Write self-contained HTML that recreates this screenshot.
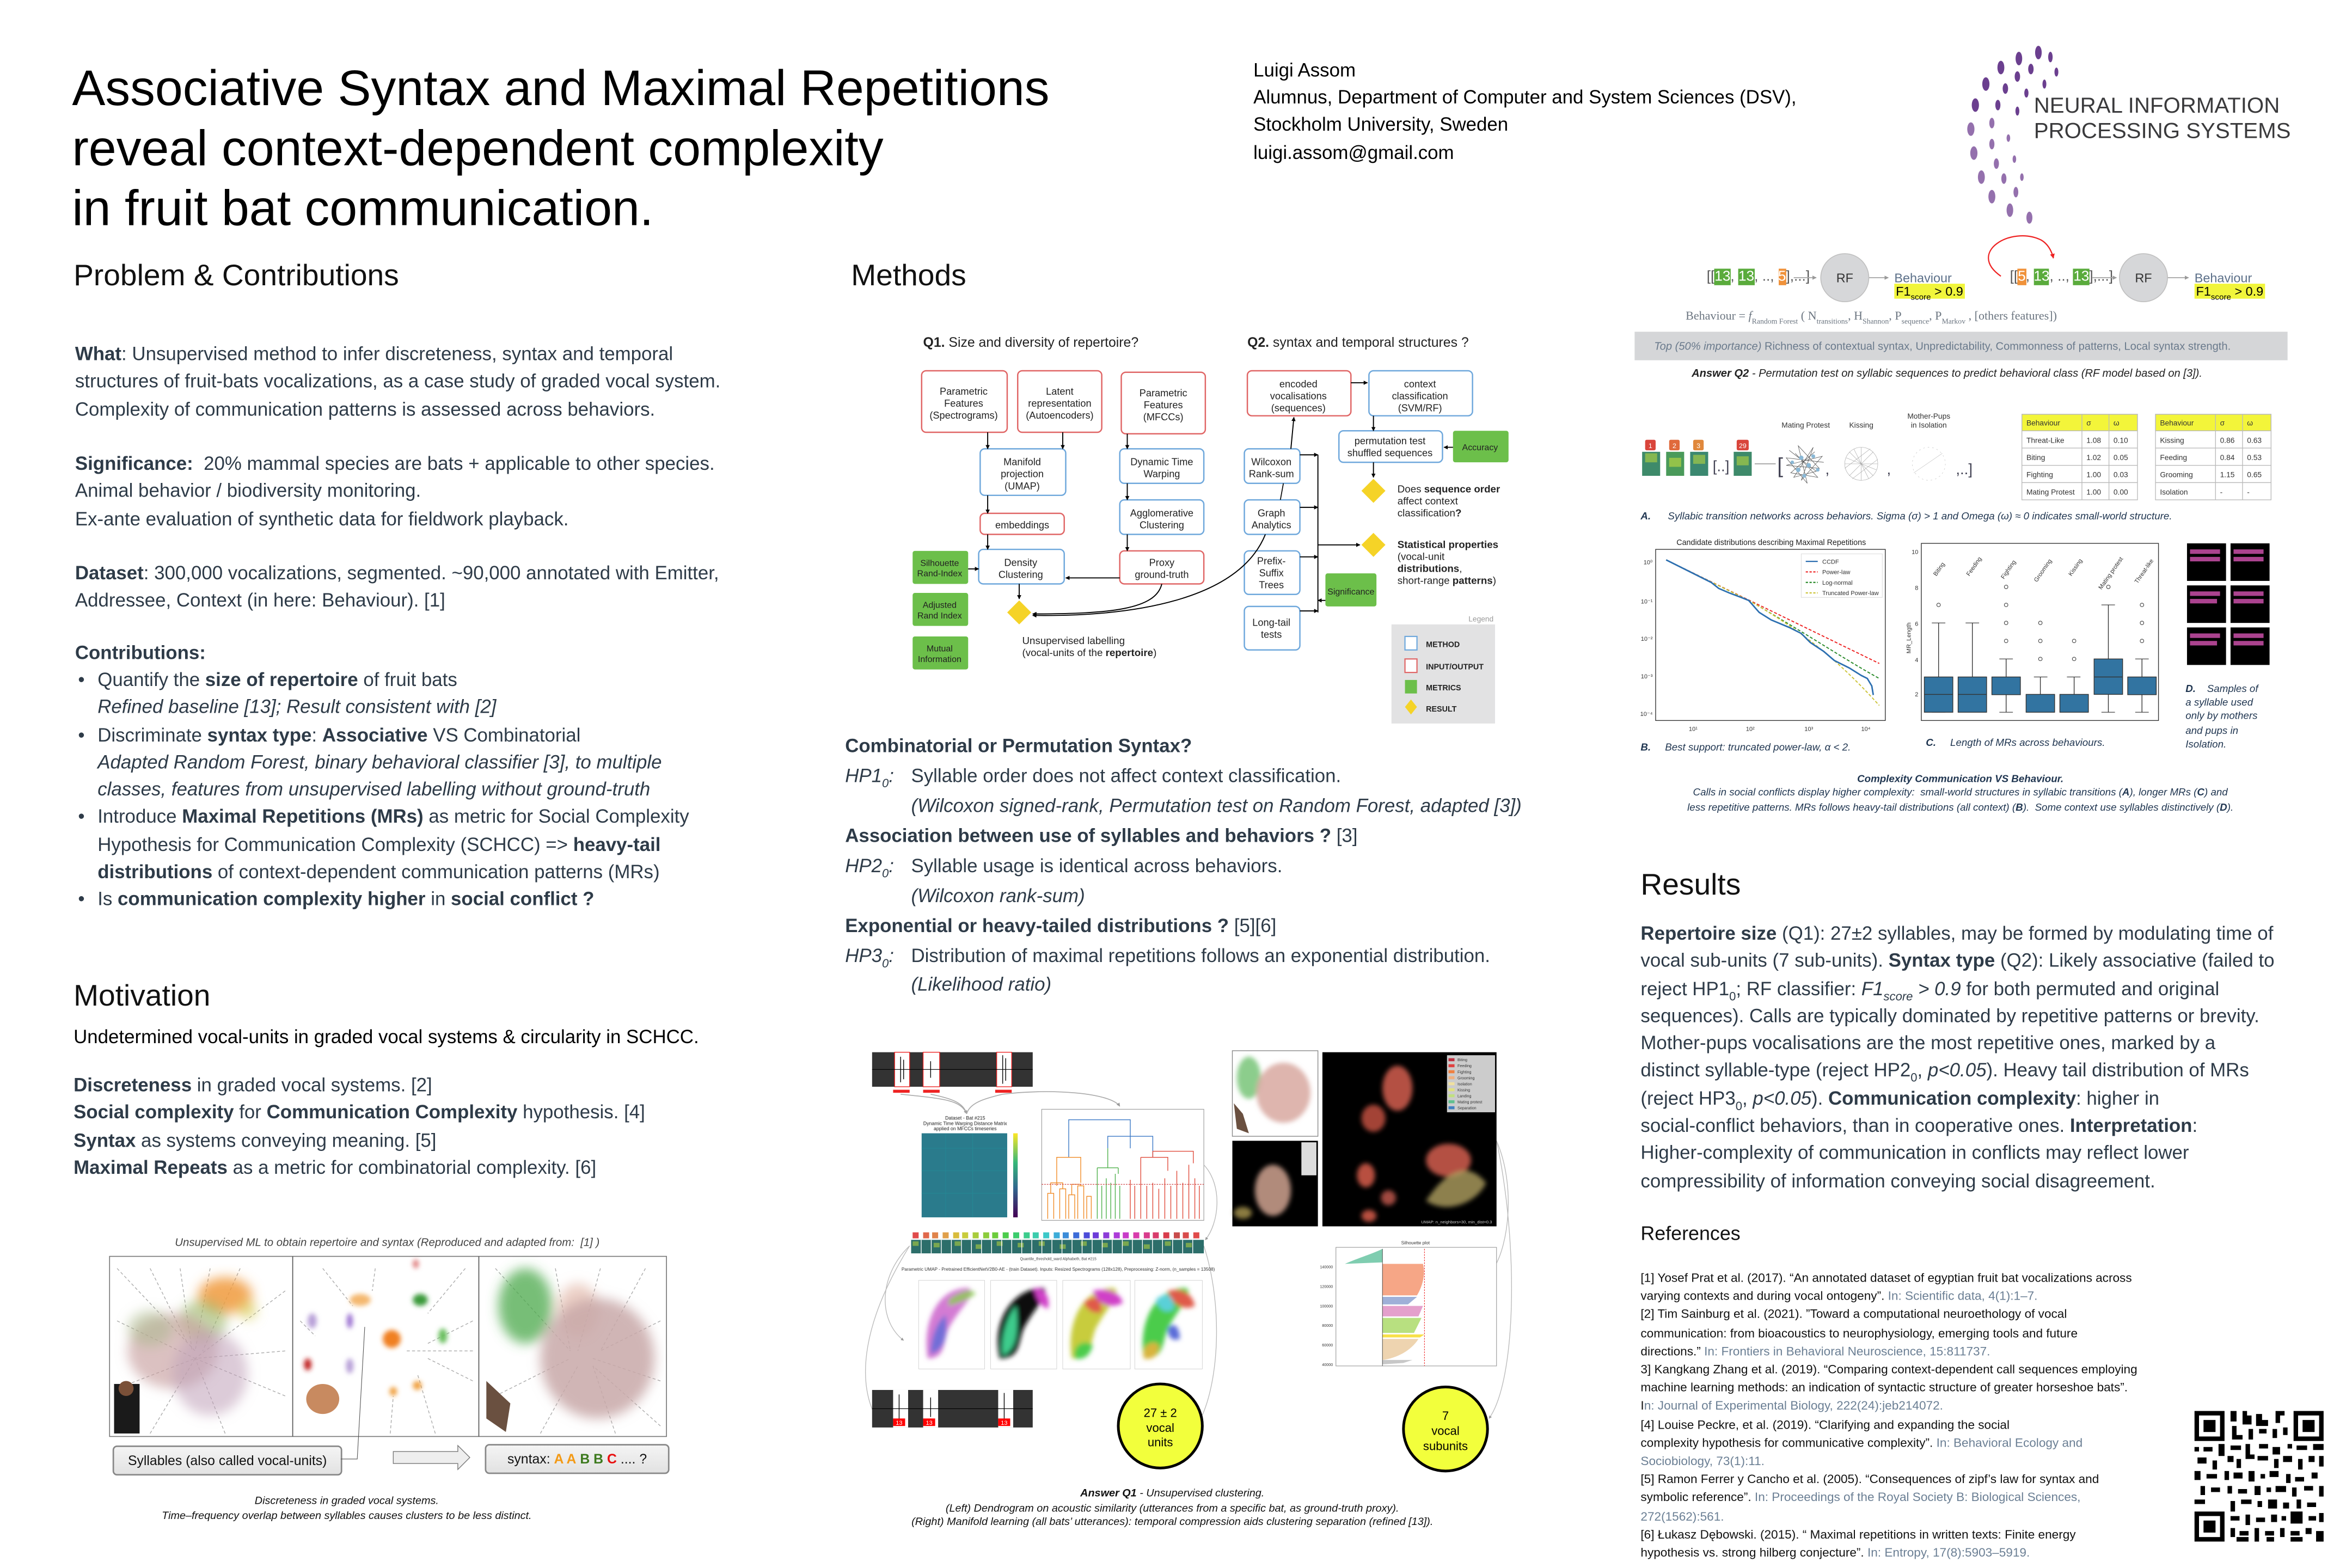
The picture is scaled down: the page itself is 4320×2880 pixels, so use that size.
<!DOCTYPE html>
<html><head><meta charset="utf-8">
<style>
html,body{margin:0;padding:0;background:#fff;}
body{width:4320px;height:2880px;overflow:hidden;position:relative;}
#w{position:absolute;left:0;top:0;width:1556px;height:1037px;transform:scale(2.757);transform-origin:0 0;font-family:"Liberation Sans",Arial,sans-serif;}
.t{position:absolute;white-space:nowrap;}
.body{color:#2e3b48;font-size:12.65px;line-height:18.3px;}
.h2{font-size:20px;color:#111;}
b{font-weight:bold;}
sub{line-height:0;font-size:8px;}
svg text{font-family:"Liberation Sans",Arial,sans-serif;}
</style></head><body><div id="w">

<!-- Title -->
<div class="t" style="left:48px;top:40px;font-size:33.2px;line-height:40px;color:#000;">Associative Syntax and Maximal Repetitions<br>reveal context-dependent complexity<br>in fruit bat communication.</div>

<!-- Author -->
<div class="t" style="left:835px;top:38px;font-size:12.65px;line-height:18.2px;color:#000;">Luigi Assom<br>Alumnus, Department of Computer and System Sciences (DSV),<br>Stockholm University, Sweden<br>luigi.assom@gmail.com</div>

<div class="t" style="left:1355px;top:63px;font-size:14.6px;line-height:16.5px;color:#3a3a3c;">NEURAL INFORMATION<br>PROCESSING SYSTEMS</div>

<!-- Section headings -->
<div class="t h2" style="left:49px;top:173px;">Problem &amp; Contributions</div>
<div class="t h2" style="left:567px;top:173px;">Methods</div>
<div class="t h2" style="left:49px;top:653px;">Motivation</div>
<div class="t h2" style="left:1093px;top:579px;">Results</div>
<div class="t" style="left:1093px;top:814px;font-size:13px;color:#111;">References</div>

<!-- Left text -->
<div class="t body" style="left:50px;top:227px;"><b>What</b>: Unsupervised method to infer discreteness, syntax and temporal<br>structures of fruit-bats vocalizations, as a case study of graded vocal system.<br>Complexity of communication patterns is assessed across behaviors.</div>
<div class="t body" style="left:50px;top:300px;"><b>Significance:</b>&nbsp; 20% mammal species are bats + applicable to other species.<br>Animal behavior / biodiversity monitoring.<br>Ex-ante evaluation of synthetic data for fieldwork playback.</div>
<div class="t body" style="left:50px;top:373px;"><b>Dataset</b>: 300,000 vocalizations, segmented. ~90,000 annotated with Emitter,<br>Addressee, Context (in here: Behaviour). [1]</div>
<div class="t body" style="left:50px;top:426px;"><b>Contributions:</b></div>
<div class="t body" style="left:52px;top:444px;">•<br><br>•<br><br><br>•<br><br><br>•</div>
<div class="t body" style="left:65px;top:444px;">Quantify the <b>size of repertoire</b> of fruit bats<br><i>Refined baseline [13]; Result consistent with [2]</i><br>Discriminate <b>syntax type</b>: <b>Associative</b> VS Combinatorial<br><i>Adapted Random Forest, binary behavioral classifier [3], to multiple</i><br><i>classes, features from unsupervised labelling without ground-truth</i><br>Introduce <b>Maximal Repetitions (MRs)</b> as metric for Social Complexity<br>Hypothesis for Communication Complexity (SCHCC) =&gt; <b>heavy-tail</b><br><b>distributions</b> of context-dependent communication patterns (MRs)<br>Is <b>communication complexity higher</b> in <b>social conflict ?</b></div>
<div class="t" style="left:49px;top:684px;font-size:12.65px;color:#000;">Undetermined vocal-units in graded vocal systems &amp; circularity in SCHCC.</div>
<div class="t body" style="left:49px;top:714px;"><b>Discreteness</b> in graded vocal systems. [2]<br><b>Social complexity</b> for <b>Communication Complexity</b> hypothesis. [4]<br><b>Syntax</b> as systems conveying meaning. [5]<br><b>Maximal Repeats</b> as a metric for combinatorial complexity. [6]</div>

<!-- Methods text -->
<div class="t body" style="left:563px;top:488px;"><b>Combinatorial or Permutation Syntax?</b></div>
<div class="t body" style="left:563px;top:508px;"><i>HP1<sub>0</sub>:</i></div>
<div class="t body" style="left:607px;top:508px;">Syllable order does not affect context classification.</div>
<div class="t body" style="left:607px;top:528px;"><i>(Wilcoxon signed-rank, Permutation test on Random Forest, adapted [3])</i></div>
<div class="t body" style="left:563px;top:548px;"><b>Association between use of syllables and behaviors ?</b> [3]</div>
<div class="t body" style="left:563px;top:568px;"><i>HP2<sub>0</sub>:</i></div>
<div class="t body" style="left:607px;top:568px;">Syllable usage is identical across behaviors.</div>
<div class="t body" style="left:607px;top:588px;"><i>(Wilcoxon rank-sum)</i></div>
<div class="t body" style="left:563px;top:608px;"><b>Exponential or heavy-tailed distributions ?</b> [5][6]</div>
<div class="t body" style="left:563px;top:628px;"><i>HP3<sub>0</sub>:</i></div>
<div class="t body" style="left:607px;top:628px;">Distribution of maximal repetitions follows an exponential distribution.</div>
<div class="t body" style="left:607px;top:647px;"><i>(Likelihood ratio)</i></div>

<!-- Results text -->
<div class="t body" style="left:1093px;top:613px;"><b>Repertoire size</b> (Q1): 27±2 syllables, may be formed by modulating time of<br>vocal sub-units (7 sub-units). <b>Syntax type</b> (Q2): Likely associative (failed to<br>reject HP1<sub>0</sub>; RF classifier: <i>F1<sub>score</sub> &gt; 0.9</i> for both permuted and original<br>sequences). Calls are typically dominated by repetitive patterns or brevity.<br>Mother-pups vocalisations are the most repetitive ones, marked by a<br>distinct syllable-type (reject HP2<sub>0</sub>, <i>p&lt;0.05</i>). Heavy tail distribution of MRs<br>(reject HP3<sub>0</sub>, <i>p&lt;0.05</i>). <b>Communication complexity</b>: higher in<br>social-conflict behaviors, than in cooperative ones. <b>Interpretation</b>:<br>Higher-complexity of communication in conflicts may reflect lower<br>compressibility of information conveying social disagreement.</div>

<!-- References -->
<div class="t" style="left:1093px;top:846px;font-size:8.2px;line-height:12.2px;color:#111;">[1] Yosef Prat et al. (2017). “An annotated dataset of egyptian fruit bat vocalizations across<br>varying contexts and during vocal ontogeny”. <span style="color:#6b7f94">In: Scientific data, 4(1):1–7.</span><br>[2] Tim Sainburg et al. (2021). ”Toward a computational neuroethology of vocal<br>communication: from bioacoustics to neurophysiology, emerging tools and future<br>directions.” <span style="color:#6b7f94">In: Frontiers in Behavioral Neuroscience, 15:811737.</span><br>3] Kangkang Zhang et al. (2019). “Comparing context-dependent call sequences employing<br>machine learning methods: an indication of syntactic structure of greater horseshoe bats”.<br>I<span style="color:#6b7f94">n: Journal of Experimental Biology, 222(24):jeb214072.</span><br>[4] Louise Peckre, et al. (2019). “Clarifying and expanding the social<br>complexity hypothesis for communicative complexity”. <span style="color:#6b7f94">In: Behavioral Ecology and</span><br><span style="color:#6b7f94">Sociobiology, 73(1):11.</span><br>[5] Ramon Ferrer y Cancho et al. (2005). “Consequences of zipf’s law for syntax and<br>symbolic reference”. <span style="color:#6b7f94">In: Proceedings of the Royal Society B: Biological Sciences,</span><br><span style="color:#6b7f94">272(1562):561.</span><br>[6] Łukasz Dębowski. (2015). “ Maximal repetitions in written texts: Finite energy<br>hypothesis vs. strong hilberg conjecture”. <span style="color:#6b7f94">In: Entropy, 17(8):5903–5919.</span></div>

<!-- Right-top sequence text -->
<div class="t" style="left:1137px;top:179px;font-size:9.5px;color:#555;">[[<span style="background:#5aab3c;color:#fff">13</span>, <span style="background:#5aab3c;color:#fff">13</span>, .., <span style="background:#f0923a;color:#fff">5</span>],...]</div>
<div class="t" style="left:1339px;top:179px;font-size:9.5px;color:#555;">[[<span style="background:#f0923a;color:#fff">5</span>, <span style="background:#5aab3c;color:#fff">13</span>, .., <span style="background:#5aab3c;color:#fff">13</span>],...]</div>
<div class="t" style="left:1262px;top:180px;font-size:8.5px;color:#5b6f88;">Behaviour</div>
<div class="t" style="left:1262px;top:189px;font-size:8.5px;line-height:10px;background:#f1f53b;color:#000;padding:0 1px;">F1<sub style="font-size:5.5px">score</sub> &gt; 0.9</div>
<div class="t" style="left:1462px;top:180px;font-size:8.5px;color:#5b6f88;">Behaviour</div>
<div class="t" style="left:1462px;top:189px;font-size:8.5px;line-height:10px;background:#f1f53b;color:#000;padding:0 1px;">F1<sub style="font-size:5.5px">score</sub> &gt; 0.9</div>
<div class="t" style="left:1123px;top:206px;font-size:8px;color:#6b7580;font-family:'Liberation Serif',serif;">Behaviour = <i>f</i><sub style="font-size:5px">Random Forest</sub> ( N<sub style="font-size:5px">transitions</sub>, H<sub style="font-size:5px">Shannon</sub>, P<sub style="font-size:5px">sequence</sub>, P<sub style="font-size:5px">Markov</sub> , [others features])</div>
<div class="t" style="left:1089px;top:221px;width:435px;height:19px;background:#d5d6d8;"></div>
<div class="t" style="left:1102px;top:226px;font-size:7.3px;color:#6a7a8c;"><i>Top (50% importance)</i> Richness of contextual syntax, Unpredictability, Commonness of patterns, Local syntax strength.</div>
<div class="t" style="left:1127px;top:244px;font-size:7.3px;color:#222;font-style:italic;"><b>Answer Q2</b> - Permutation test on syllabic sequences to predict behavioral class (RF model based on [3]).</div>

<div class="t" style="left:1093px;top:341px;font-size:6.8px;color:#1f3550;font-style:italic;"><b>A.</b> &nbsp;&nbsp;&nbsp;&nbsp;&nbsp;Syllabic transition networks across behaviors. Sigma (σ) &gt; 1 and Omega (ω) ≈ 0 indicates small-world structure.</div>
<div class="t" style="left:1093px;top:495px;font-size:6.8px;color:#1f3550;font-style:italic;"><b>B.</b> &nbsp;&nbsp;&nbsp;&nbsp;Best support: truncated power-law, α &lt; 2.</div>
<div class="t" style="left:1283px;top:492px;font-size:6.8px;color:#1f3550;font-style:italic;"><b>C.</b> &nbsp;&nbsp;&nbsp;&nbsp;Length of MRs across behaviours.</div>
<div class="t" style="left:1456px;top:455px;font-size:6.8px;line-height:9.2px;color:#1f3550;font-style:italic;"><b>D.</b> &nbsp;&nbsp;&nbsp;Samples of<br>a syllable used<br>only by mothers<br>and pups in<br>Isolation.</div>
<div class="t" style="left:1306px;top:515px;transform:translateX(-50%);text-align:center;font-size:6.8px;line-height:9.4px;color:#1f3550;font-style:italic;"><b>Complexity Communication VS Behaviour.</b><br>Calls in social conflicts display higher complexity:&nbsp; small-world structures in syllabic transitions (<b>A</b>), longer MRs (<b>C</b>) and<br>less repetitive patterns. MRs follows heavy-tail distributions (all context) (<b>B</b>).&nbsp; Some context use syllables distinctively (<b>D</b>).</div>

<!-- Q1 answer caption -->
<div class="t" style="left:781px;top:990px;transform:translateX(-50%);text-align:center;font-size:7.2px;line-height:9.6px;color:#111;font-style:italic;"><b>Answer Q1</b> - Unsupervised clustering.<br>(Left) Dendrogram on acoustic similarity (utterances from a specific bat, as ground-truth proxy).<br>(Right) Manifold learning (all bats’ utterances): temporal compression aids clustering separation (refined [13]).</div>

<!-- Left fig captions -->
<div class="t" style="left:258px;top:823px;transform:translateX(-50%);font-size:7.4px;color:#444;font-style:italic;">Unsupervised ML to obtain repertoire and syntax (Reproduced and adapted from:&nbsp; [1] )</div>
<div class="t" style="left:231px;top:995px;transform:translateX(-50%);text-align:center;font-size:7.2px;line-height:10px;color:#111;font-style:italic;">Discreteness in graded vocal systems.<br>Time–frequency overlap between syllables causes clusters to be less distinct.</div>
<div class="t" style="left:75px;top:963px;width:151px;height:18px;border:0.8px solid #888;border-radius:3px;background:linear-gradient(#f4f4f4,#e2e2e2);font-size:9px;line-height:18px;text-align:center;color:#111;">Syllables (also called vocal-units)</div>
<div class="t" style="left:323px;top:962px;width:121px;height:18px;border:0.8px solid #888;border-radius:3px;background:linear-gradient(#f4f4f4,#e2e2e2);font-size:9px;line-height:18px;text-align:center;color:#111;">syntax: <b style="color:#f39a16">A A</b> <b style="color:#3d7a1e">B B</b> <b style="color:#e81010">C</b> .... ?</div>

<svg style="position:absolute;left:0;top:0" width="1556" height="1037" viewBox="0 0 1556 1037">
<defs>
<filter id="bl" x="-50%" y="-50%" width="200%" height="200%"><feGaussianBlur stdDeviation="4"/></filter>
<filter id="bl2" x="-50%" y="-50%" width="200%" height="200%"><feGaussianBlur stdDeviation="1.5"/></filter>
<marker id="ah" viewBox="0 0 10 10" refX="9" refY="5" markerWidth="4" markerHeight="4" orient="auto"><path d="M0,0L10,5L0,10z" fill="#000"/></marker>
<marker id="ag" viewBox="0 0 10 10" refX="9" refY="5" markerWidth="4" markerHeight="4" orient="auto"><path d="M0,0L10,5L0,10z" fill="#999"/></marker>
<marker id="ar" viewBox="0 0 10 10" refX="9" refY="5" markerWidth="4" markerHeight="4" orient="auto"><path d="M0,0L10,5L0,10z" fill="#e22"/></marker>
<linearGradient id="vir" x1="0" y1="1" x2="0" y2="0"><stop offset="0" stop-color="#440154"/><stop offset=".35" stop-color="#31688e"/><stop offset=".65" stop-color="#35b779"/><stop offset="1" stop-color="#fde725"/></linearGradient>
</defs>

<!-- NeurIPS logo dots -->
<g fill="#6b3f8f">
<ellipse cx="1358" cy="35" rx="2.2" ry="4.5"/><ellipse cx="1345" cy="39" rx="2.2" ry="4.5"/><ellipse cx="1333" cy="45" rx="2.3" ry="4.5"/><ellipse cx="1323" cy="56" rx="2.4" ry="4.5"/><ellipse cx="1316" cy="70" rx="2.4" ry="4.5"/>
<ellipse cx="1353" cy="46" rx="1.8" ry="3.5"/><ellipse cx="1344" cy="51" rx="1.8" ry="3.5"/><ellipse cx="1336" cy="59" rx="1.8" ry="3.5"/><ellipse cx="1331" cy="70" rx="1.7" ry="3.5"/>
<ellipse cx="1366" cy="38" rx="1.5" ry="3.5"/><ellipse cx="1370" cy="48" rx="1.3" ry="3"/><ellipse cx="1362" cy="56" rx="1.3" ry="3"/><ellipse cx="1350" cy="62" rx="1.4" ry="3"/><ellipse cx="1344" cy="74" rx="1.3" ry="3"/>
</g>
<g fill="#9470ad">
<ellipse cx="1313" cy="86" rx="2.4" ry="4.5"/><ellipse cx="1315" cy="102" rx="2.4" ry="4.5"/><ellipse cx="1320" cy="118" rx="2.3" ry="4.5"/><ellipse cx="1327" cy="131" rx="2.3" ry="4.5"/><ellipse cx="1339" cy="140" rx="2.2" ry="4.5"/><ellipse cx="1352" cy="145" rx="2" ry="4"/>
<ellipse cx="1327" cy="82" rx="1.7" ry="3.5"/><ellipse cx="1327" cy="96" rx="1.7" ry="3.5"/><ellipse cx="1330" cy="109" rx="1.7" ry="3.5"/><ellipse cx="1335" cy="119" rx="1.7" ry="3.5"/><ellipse cx="1343" cy="128" rx="1.6" ry="3.5"/>
<ellipse cx="1338" cy="92" rx="1.2" ry="2.5"/><ellipse cx="1342" cy="106" rx="1.2" ry="2.5"/><ellipse cx="1347" cy="118" rx="1.2" ry="2.5"/>
</g>

<!-- ============ METHODS DIAGRAM ============ -->
<g font-size="7" fill="#222" text-anchor="middle">
<text x="615" y="231" text-anchor="start" font-size="9"><tspan font-weight="bold">Q1.</tspan> Size and diversity of repertoire?</text>
<text x="831" y="231" text-anchor="start" font-size="9"><tspan font-weight="bold">Q2.</tspan> syntax and temporal structures ?</text>
</g>
<g fill="#fff" stroke-width="0.9">
<rect x="614" y="247" width="57" height="41" rx="3" stroke="#e06666"/>
<rect x="678" y="247" width="56" height="41" rx="3" stroke="#e06666"/>
<rect x="747" y="248" width="56" height="41" rx="3" stroke="#e06666"/>
<rect x="653" y="299" width="57" height="31" rx="3" stroke="#6fa8dc"/>
<rect x="746" y="299" width="56" height="23" rx="3" stroke="#6fa8dc"/>
<rect x="653" y="342" width="56" height="14" rx="3" stroke="#e06666"/>
<rect x="746" y="333" width="56" height="23" rx="3" stroke="#6fa8dc"/>
<rect x="652" y="366" width="57" height="23" rx="3" stroke="#6fa8dc"/>
<rect x="746" y="367" width="56" height="22" rx="3" stroke="#e06666"/>
<rect x="831" y="247" width="69" height="30" rx="3" stroke="#e06666"/>
<rect x="912" y="247" width="69" height="30" rx="3" stroke="#6fa8dc"/>
<rect x="892" y="287" width="69" height="21" rx="3" stroke="#6fa8dc"/>
<rect x="829" y="299" width="37" height="23" rx="3" stroke="#6fa8dc"/>
<rect x="829" y="333" width="37" height="23" rx="3" stroke="#6fa8dc"/>
<rect x="829" y="367" width="37" height="29" rx="3" stroke="#6fa8dc"/>
<rect x="829" y="404" width="37" height="29" rx="3" stroke="#6fa8dc"/>
</g>
<g fill="#6cbf4a">
<rect x="608" y="367" width="37" height="22" rx="1.5"/>
<rect x="608" y="395" width="37" height="22" rx="1.5"/>
<rect x="608" y="424" width="37" height="22" rx="1.5"/>
<rect x="968" y="287" width="37" height="21" rx="1.5"/>
<rect x="883" y="382" width="34" height="22" rx="1.5"/>
</g>
<g font-size="6.6" fill="#222" text-anchor="middle">
<text x="642" y="263">Parametric</text><text x="642" y="271">Features</text><text x="642" y="279">(Spectrograms)</text>
<text x="706" y="263">Latent</text><text x="706" y="271">representation</text><text x="706" y="279">(Autoencoders)</text>
<text x="775" y="264">Parametric</text><text x="775" y="272">Features</text><text x="775" y="280">(MFCCs)</text>
<text x="681" y="310">Manifold</text><text x="681" y="318">projection</text><text x="681" y="326">(UMAP)</text>
<text x="774" y="310">Dynamic Time</text><text x="774" y="318">Warping</text>
<text x="681" y="352">embeddings</text>
<text x="774" y="344">Agglomerative</text><text x="774" y="352">Clustering</text>
<text x="680" y="377">Density</text><text x="680" y="385">Clustering</text>
<text x="774" y="377">Proxy</text><text x="774" y="385">ground-truth</text>
<text x="865" y="258">encoded</text><text x="865" y="266">vocalisations</text><text x="865" y="274">(sequences)</text>
<text x="946" y="258">context</text><text x="946" y="266">classification</text><text x="946" y="274">(SVM/RF)</text>
<text x="926" y="296">permutation test</text><text x="926" y="304">shuffled sequences</text>
<text x="847" y="310">Wilcoxon</text><text x="847" y="318">Rank-sum</text>
<text x="847" y="344">Graph</text><text x="847" y="352">Analytics</text>
<text x="847" y="376">Prefix-</text><text x="847" y="384">Suffix</text><text x="847" y="392">Trees</text>
<text x="847" y="417">Long-tail</text><text x="847" y="425">tests</text>
<g font-size="5.8"><text x="626" y="377">Silhouette</text><text x="626" y="384">Rand-Index</text>
<text x="626" y="405">Adjusted</text><text x="626" y="412">Rand Index</text>
<text x="626" y="434">Mutual</text><text x="626" y="441">Information</text>
<text x="986" y="300">Accuracy</text>
<text x="900" y="396">Significance</text></g>
</g>
<g stroke="#000" stroke-width="0.7" fill="none" marker-end="url(#ah)">
<line x1="658" y1="288" x2="658" y2="299"/><line x1="708" y1="288" x2="708" y2="299"/><line x1="751" y1="289" x2="751" y2="299"/>
<line x1="658" y1="330" x2="658" y2="342"/><line x1="658" y1="356" x2="658" y2="366"/>
<line x1="751" y1="322" x2="751" y2="333"/><line x1="751" y1="356" x2="751" y2="367"/>
<line x1="746" y1="385" x2="710" y2="385"/><line x1="645" y1="379" x2="652" y2="379"/>
<line x1="679" y1="389" x2="679" y2="399"/>
<path d="M774,389 C770,406 740,409 688,409"/><path d="M843,356 C826,398 760,411 688,410"/>
<line x1="900" y1="255" x2="911" y2="255"/><line x1="915" y1="277" x2="915" y2="287"/>
<line x1="915" y1="308" x2="915" y2="318"/><line x1="968" y1="298" x2="962" y2="298"/>
<line x1="860" y1="299" x2="862" y2="278"/>
<line x1="866" y1="303" x2="878" y2="303"/><line x1="866" y1="338" x2="878" y2="338"/>
<line x1="866" y1="371" x2="878" y2="371"/><line x1="866" y1="407" x2="878" y2="407"/>
<line x1="883" y1="400" x2="878" y2="400"/><line x1="878" y1="363" x2="906" y2="363"/>
</g>
<line x1="878" y1="303" x2="878" y2="408" stroke="#000" stroke-width="0.7"/>
<line x1="855" y1="322" x2="853" y2="333" stroke="#000" stroke-width="0.6"/>
<g fill="#f5d327"><path d="M679,400 L687,408 L679,416 L671,408z"/><path d="M915,319 L923,327 L915,335 L907,327z"/><path d="M915,355 L923,363 L915,371 L907,363z"/></g>
<g font-size="6.8" fill="#222">
<text x="681" y="429">Unsupervised labelling</text><text x="681" y="437">(vocal-units of the <tspan font-weight="bold">repertoire</tspan>)</text>
<text x="931" y="328">Does <tspan font-weight="bold">sequence order</tspan></text><text x="931" y="336">affect context</text><text x="931" y="344">classification<tspan font-weight="bold">?</tspan></text>
<text x="931" y="365" font-weight="bold">Statistical properties</text><text x="931" y="373">(vocal-unit</text><text x="931" y="381"><tspan font-weight="bold">distributions</tspan>,</text><text x="931" y="389">short-range <tspan font-weight="bold">patterns</tspan>)</text>
</g>
<text x="995" y="414" font-size="5" fill="#999" text-anchor="end">Legend</text>
<rect x="927" y="416" width="69" height="66" fill="#e2e2e3"/>
<rect x="936" y="424" width="8" height="9" fill="#fff" stroke="#6fa8dc" stroke-width="0.8"/>
<rect x="936" y="439" width="8" height="9" fill="#fff" stroke="#e06666" stroke-width="0.8"/>
<rect x="936" y="453" width="8" height="9" fill="#6cbf4a"/>
<path d="M940,466 L944,471 L940,476 L936,471z" fill="#f5d327"/>
<g font-size="5.2" font-weight="bold" fill="#222"><text x="950" y="431">METHOD</text><text x="950" y="446">INPUT/OUTPUT</text><text x="950" y="460">METRICS</text><text x="950" y="474">RESULT</text></g>

<!-- ============ RIGHT TOP Q2 FIG ============ -->
<g stroke="#aaa" stroke-width="0.7" marker-end="url(#ag)"><line x1="1195" y1="185" x2="1210" y2="185"/><line x1="1245" y1="185" x2="1258" y2="185"/><line x1="1394" y1="185" x2="1410" y2="185"/><line x1="1444" y1="185" x2="1458" y2="185"/></g>
<circle cx="1229" cy="185" r="16" fill="#d6d7d9" stroke="#c0c0c0" stroke-width="0.6"/><text x="1229" y="188" font-size="8.5" fill="#333" text-anchor="middle">RF</text>
<circle cx="1428" cy="185" r="16" fill="#d6d7d9" stroke="#c0c0c0" stroke-width="0.6"/><text x="1428" y="188" font-size="8.5" fill="#333" text-anchor="middle">RF</text>
<path d="M1333,184 C1310,168 1340,150 1360,160 C1365,163 1367,168 1368,172" stroke="#e22" stroke-width="0.8" fill="none" marker-end="url(#ar)"/>

<!-- Section A -->
<g>
<rect x="1094" y="301" width="12" height="16" fill="#3e8a6a"/><rect x="1110" y="301" width="12" height="16" fill="#4a9a5a"/><rect x="1126" y="301" width="12" height="16" fill="#3b8870"/><rect x="1155" y="301" width="12" height="16" fill="#3e8a6a"/>
<rect x="1096" y="302" width="8" height="6" fill="#b5d640" opacity=".6"/><rect x="1112" y="305" width="8" height="6" fill="#c5de40" opacity=".6"/><rect x="1128" y="303" width="8" height="6" fill="#b5d640" opacity=".6"/><rect x="1157" y="304" width="8" height="6" fill="#b5d640" opacity=".6"/>
<rect x="1096" y="293" width="7" height="7" rx="1" fill="#d9453b"/><rect x="1112" y="293" width="7" height="7" rx="1" fill="#e06a3c"/><rect x="1128" y="293" width="7" height="7" rx="1" fill="#e0883c"/><rect x="1157" y="293" width="8" height="7" rx="1" fill="#d9453b"/>
<g font-size="4.5" fill="#fff" text-anchor="middle"><text x="1099.5" y="298.5">1</text><text x="1115.5" y="298.5">2</text><text x="1131.5" y="298.5">3</text><text x="1161" y="298.5">29</text></g>
<text x="1141" y="314" font-size="10" fill="#445">[..]</text>
<line x1="1169" y1="309" x2="1183" y2="309" stroke="#999" stroke-width="0.6"/>
<text x="1184" y="315" font-size="14" fill="#445">[</text>
<g stroke="#555" stroke-width="0.3" fill="none"><path d="M1192,300 L1210,314 L1195,318 L1208,298 L1200,320 L1214,304 L1190,310 L1212,312 L1198,297 L1204,322 L1190,305 L1215,308 M1196,302 L1211,318 L1193,315 L1209,301"/></g>
<g fill="#8ab8d6"><circle cx="1200" cy="305" r="1.5"/><circle cx="1205" cy="310" r="1.5"/><circle cx="1198" cy="313" r="1.5"/><circle cx="1208" cy="304" r="1.3"/><circle cx="1202" cy="317" r="1.3"/><circle cx="1194" cy="308" r="1.2"/><circle cx="1211" cy="313" r="1.2"/></g>
<text x="1216" y="316" font-size="10" fill="#445">,</text>
<g stroke="#aaa" stroke-width="0.25" fill="none"><circle cx="1240" cy="309" r="11"/><path d="M1229,309 L1251,309 M1240,298 L1240,320 M1232,301 L1248,317 M1232,317 L1248,301 M1230,305 L1250,313 M1235,299 L1245,319 M1229,312 L1246,299 M1234,319 L1251,306"/></g>
<text x="1257" y="316" font-size="10" fill="#445">,</text>
<g stroke="#ccc" stroke-width="0.3" fill="none"><circle cx="1285" cy="309" r="11" stroke-dasharray="1 2"/><path d="M1275,315 L1294,302"/></g>
<text x="1303" y="316" font-size="10" fill="#445">,..]</text>
<g font-size="5" fill="#333" text-anchor="middle"><text x="1203" y="285">Mating Protest</text><text x="1240" y="285">Kissing</text><text x="1285" y="279">Mother-Pups</text><text x="1285" y="285">in Isolation</text></g>
</g>
<!-- tables -->
<g font-size="5" fill="#333">
<g stroke="#bbb" stroke-width="0.5">
<rect x="1347" y="276" width="77" height="11" fill="#f3f53a"/>
<rect x="1347" y="276" width="77" height="57" fill="none"/>
<line x1="1347" y1="287" x2="1424" y2="287"/><line x1="1347" y1="298.5" x2="1424" y2="298.5"/><line x1="1347" y1="310" x2="1424" y2="310"/><line x1="1347" y1="321.5" x2="1424" y2="321.5"/>
<line x1="1387" y1="276" x2="1387" y2="333"/><line x1="1405" y1="276" x2="1405" y2="333"/>
<rect x="1436" y="276" width="77" height="11" fill="#f3f53a"/>
<rect x="1436" y="276" width="77" height="57" fill="none"/>
<line x1="1436" y1="287" x2="1513" y2="287"/><line x1="1436" y1="298.5" x2="1513" y2="298.5"/><line x1="1436" y1="310" x2="1513" y2="310"/><line x1="1436" y1="321.5" x2="1513" y2="321.5"/>
<line x1="1476" y1="276" x2="1476" y2="333"/><line x1="1494" y1="276" x2="1494" y2="333"/>
</g>
<text x="1350" y="283.5">Behaviour</text><text x="1390" y="283.5">σ</text><text x="1408" y="283.5">ω</text>
<text x="1350" y="295">Threat-Like</text><text x="1390" y="295">1.08</text><text x="1408" y="295">0.10</text>
<text x="1350" y="306.5">Biting</text><text x="1390" y="306.5">1.02</text><text x="1408" y="306.5">0.05</text>
<text x="1350" y="318">Fighting</text><text x="1390" y="318">1.00</text><text x="1408" y="318">0.03</text>
<text x="1350" y="329.5">Mating Protest</text><text x="1390" y="329.5">1.00</text><text x="1408" y="329.5">0.00</text>
<text x="1439" y="283.5">Behaviour</text><text x="1479" y="283.5">σ</text><text x="1497" y="283.5">ω</text>
<text x="1439" y="295">Kissing</text><text x="1479" y="295">0.86</text><text x="1497" y="295">0.63</text>
<text x="1439" y="306.5">Feeding</text><text x="1479" y="306.5">0.84</text><text x="1497" y="306.5">0.53</text>
<text x="1439" y="318">Grooming</text><text x="1479" y="318">1.15</text><text x="1497" y="318">0.65</text>
<text x="1439" y="329.5">Isolation</text><text x="1479" y="329.5">-</text><text x="1497" y="329.5">-</text>
</g>

<!-- Chart B -->
<text x="1180" y="363" font-size="5.2" fill="#222" text-anchor="middle">Candidate distributions describing Maximal Repetitions</text>
<rect x="1103" y="366" width="153" height="114" fill="#fff" stroke="#333" stroke-width="0.5"/>
<g font-size="4" fill="#333" text-anchor="end"><text x="1101" y="376">10⁰</text><text x="1101" y="402">10⁻¹</text><text x="1101" y="427">10⁻²</text><text x="1101" y="452">10⁻³</text><text x="1101" y="477">10⁻⁴</text></g>
<g font-size="4" fill="#333" text-anchor="middle"><text x="1128" y="487">10¹</text><text x="1166" y="487">10²</text><text x="1205" y="487">10³</text><text x="1243" y="487">10⁴</text></g>
<g fill="none" stroke-width="0.7">
<path d="M1110,373 L1252,442" stroke="#e22" stroke-dasharray="2 1.2"/>
<path d="M1110,373 L1165,400 C1200,420 1230,440 1252,452" stroke="#2a8a2a" stroke-dasharray="2 1.2"/>
<path d="M1110,373 L1165,400 C1200,420 1225,440 1252,470" stroke="#cdc43a" stroke-dasharray="2 1.2"/>
<path d="M1110,373 L1140,388 L1145,392 L1152,395 L1160,398 L1165,400 L1172,408 L1180,413 L1192,418 L1200,422 L1206,428 L1215,434 L1222,440 L1232,445 L1240,450 L1244,452 L1247,457 L1248,463" stroke="#2c6fb0" stroke-width="1"/>
</g>
<rect x="1200" y="369" width="54" height="29" fill="#fff" stroke="#ddd" stroke-width="0.4"/>
<g stroke-width="0.8"><line x1="1203" y1="374" x2="1211" y2="374" stroke="#2c6fb0"/><line x1="1203" y1="381" x2="1211" y2="381" stroke="#e22" stroke-dasharray="1.5 1"/><line x1="1203" y1="388" x2="1211" y2="388" stroke="#2a8a2a" stroke-dasharray="1.5 1"/><line x1="1203" y1="395" x2="1211" y2="395" stroke="#cdc43a" stroke-dasharray="1.5 1"/></g>
<g font-size="4" fill="#333"><text x="1214" y="375.5">CCDF</text><text x="1214" y="382.5">Power-law</text><text x="1214" y="389.5">Log-normal</text><text x="1214" y="396.5">Truncated Power-law</text></g>

<!-- Chart C -->
<rect x="1280" y="362" width="158" height="118" fill="#fff" stroke="#333" stroke-width="0.5"/>
<g font-size="4" fill="#333" text-anchor="end"><text x="1278" y="369">10</text><text x="1278" y="393">8</text><text x="1278" y="417">6</text><text x="1278" y="441">4</text><text x="1278" y="464">2</text></g>
<text x="1273" y="425" font-size="4" fill="#333" transform="rotate(-90 1273 425)" text-anchor="middle">MR_Length</text>
<g stroke="#333" stroke-width="0.5" fill="#3274a1">
<line x1="1291.5" y1="474.5" x2="1291.5" y2="415" /><rect x="1282" y="451" width="19" height="23.5"/><line x1="1282" y1="462.6" x2="1301" y2="462.6"/>
<line x1="1314" y1="474.5" x2="1314" y2="415"/><rect x="1304.5" y="451" width="19" height="23.5"/><line x1="1304.5" y1="462.6" x2="1323.5" y2="462.6"/>
<line x1="1336.5" y1="474.5" x2="1336.5" y2="439"/><rect x="1327" y="451" width="19" height="11.8"/>
<line x1="1359.3" y1="474.5" x2="1359.3" y2="451"/><rect x="1349.8" y="462.6" width="19" height="11.9"/>
<line x1="1381.8" y1="474.5" x2="1381.8" y2="451"/><rect x="1372.3" y="462.6" width="19" height="11.9"/>
<line x1="1404.6" y1="474.5" x2="1404.6" y2="403"/><rect x="1395.1" y="439" width="19" height="23.6"/><line x1="1395.1" y1="451" x2="1414.1" y2="451"/>
<line x1="1427" y1="474.5" x2="1427" y2="439"/><rect x="1417.5" y="451" width="19" height="11.8"/>
</g>
<g stroke="#333" stroke-width="0.4"><line x1="1287" y1="474.5" x2="1296" y2="474.5"/><line x1="1287" y1="415" x2="1296" y2="415"/><line x1="1309.5" y1="415" x2="1318.5" y2="415"/><line x1="1332" y1="474.5" x2="1341" y2="474.5"/><line x1="1332" y1="439" x2="1341" y2="439"/><line x1="1355" y1="451" x2="1364" y2="451"/><line x1="1377" y1="451" x2="1386" y2="451"/><line x1="1400" y1="403" x2="1409" y2="403"/><line x1="1400" y1="474.5" x2="1409" y2="474.5"/><line x1="1422.5" y1="439" x2="1431.5" y2="439"/><line x1="1422.5" y1="474.5" x2="1431.5" y2="474.5"/></g>
<g fill="none" stroke="#444" stroke-width="0.4"><circle cx="1291.5" cy="403" r="1.2"/><circle cx="1336.5" cy="427" r="1.2"/><circle cx="1336.5" cy="415" r="1.2"/><circle cx="1336.5" cy="403" r="1.2"/><circle cx="1336.5" cy="391" r="1.2"/><circle cx="1359.3" cy="439" r="1.2"/><circle cx="1359.3" cy="427" r="1.2"/><circle cx="1359.3" cy="415" r="1.2"/><circle cx="1381.8" cy="439" r="1.2"/><circle cx="1381.8" cy="427" r="1.2"/><circle cx="1404.6" cy="391" r="1.2"/><circle cx="1427" cy="427" r="1.2"/><circle cx="1427" cy="415" r="1.2"/><circle cx="1427" cy="403" r="1.2"/></g>
<g font-size="4" fill="#333"><text transform="translate(1290,384) rotate(-55)">Biting</text><text transform="translate(1312,384) rotate(-55)">Feeding</text><text transform="translate(1335,386) rotate(-55)">Fighting</text><text transform="translate(1357,388) rotate(-55)">Grooming</text><text transform="translate(1380,384) rotate(-55)">Kissing</text><text transform="translate(1400,393) rotate(-55)">Mating protest</text><text transform="translate(1424,389) rotate(-55)">Threat-like</text></g>

<!-- D images -->
<g fill="#000"><rect x="1457" y="362" width="26" height="25"/><rect x="1486" y="362" width="26" height="25"/><rect x="1457" y="390" width="26" height="25"/><rect x="1486" y="390" width="26" height="25"/><rect x="1457" y="418" width="26" height="25"/><rect x="1486" y="418" width="26" height="25"/></g>
<g fill="#c94fa8" opacity=".85"><rect x="1459" y="366" width="20" height="3"/><rect x="1459" y="371" width="20" height="3"/><rect x="1488" y="366" width="20" height="3"/><rect x="1488" y="371" width="20" height="3"/><rect x="1459" y="394" width="20" height="3"/><rect x="1459" y="399" width="18" height="3"/><rect x="1488" y="394" width="20" height="3"/><rect x="1488" y="399" width="20" height="3"/><rect x="1459" y="422" width="20" height="3"/><rect x="1459" y="427" width="18" height="3"/><rect x="1488" y="422" width="20" height="3"/><rect x="1488" y="427" width="20" height="3"/></g>

<!-- ============ Q1 ANSWER FIGURE ============ -->
<g>
<rect x="581" y="701" width="107" height="23" fill="#333"/>
<rect x="596" y="701" width="10" height="23" fill="#fff" stroke="#e22" stroke-width="0.5"/><rect x="615" y="701" width="11" height="23" fill="#fff" stroke="#e22" stroke-width="0.5"/><rect x="664" y="701" width="10" height="23" fill="#fff" stroke="#e22" stroke-width="0.5"/>
<line x1="581" y1="712.5" x2="688" y2="712.5" stroke="#000" stroke-width="0.4"/>
<g stroke="#000" stroke-width="0.5"><line x1="600" y1="704" x2="600" y2="721"/><line x1="602" y1="706" x2="602" y2="719"/><line x1="620" y1="707" x2="620" y2="718"/><line x1="668" y1="703" x2="668" y2="722"/><line x1="670" y1="705" x2="670" y2="720"/></g>
<g fill="#e22"><rect x="595" y="726" width="11" height="2"/><rect x="615" y="726" width="11" height="2"/><rect x="663" y="726" width="11" height="2"/></g>
<g stroke="#aaa" stroke-width="0.6" fill="none"><path d="M600,729 C630,732 640,733 644,742" marker-end="url(#ag)"/><path d="M620,729 C635,732 642,735 644,742"/><path d="M668,729 C655,732 646,735 644,742"/><path d="M668,729 C700,725 740,728 746,737" marker-end="url(#ag)"/></g>
<g font-size="3.2" fill="#222" text-anchor="middle"><text x="643" y="746">Dataset - Bat #215</text><text x="643" y="749.5">Dynamic Time Warping Distance Matrix</text><text x="643" y="753">applied on MFCCs timeseries</text></g>
<rect x="614" y="755" width="57" height="56" fill="#2a7b8c"/>
<g stroke="#23909a" stroke-width="0.4" opacity=".6"><line x1="614" y1="765" x2="671" y2="765"/><line x1="614" y1="780" x2="671" y2="780"/><line x1="614" y1="795" x2="671" y2="795"/><line x1="630" y1="755" x2="630" y2="811"/><line x1="648" y1="755" x2="648" y2="811"/></g>
<rect x="675" y="755" width="3" height="56" fill="url(#vir)"/>
<rect x="694" y="739" width="108" height="74" fill="#fff" stroke="#999" stroke-width="0.4"/>
<g fill="none" stroke-width="0.5">
<path d="M712,771 L712,746 L753,746 L753,765" stroke="#3a78c6"/><path d="M738,765 L738,757 L768,757 L768,771" stroke="#3a78c6"/>
<path d="M704,790 L704,771 L720,771 L720,788" stroke="#f08a24"/>
<path d="M698,812 V795 H702 V812 M706,812 V792 H710 V812 M712,812 V796 H716 V812 M718,812 V790 H722 V812 M724,812 V797 H727 V812 M700,795 V788 H708 V792 M714,796 V789 H720 V790" stroke="#f08a24"/>
<path d="M738,765 V778 M731,778 H745 M731,778 V812 M734,790 V812 M737,785 V812 M740,788 V812 M743,782 V812 M746,790 V812 M745,778 V782" stroke="#4db04a"/>
<path d="M768,771 V767 H795 V775 M760,771 H778 V780 M760,771 V786 M753,786 V812 M756,790 V812 M760,786 V812 M764,790 V812 M768,788 V812 M772,792 V812 M776,785 V812 M780,790 V812 M784,780 V812 M788,788 V812 M792,776 V812 M796,785 V812 M799,790 V812" stroke="#e04a3a"/>
</g>
<line x1="694" y1="789" x2="802" y2="789" stroke="#c33" stroke-width="0.4" stroke-dasharray="1 0.7"/>
<g stroke="#bbb" stroke-width="0.5" fill="none"><path d="M802,776 C815,790 812,815 803,826" marker-end="url(#ag)"/><path d="M606,830 C585,850 585,880 602,893" marker-end="url(#ag)"/><path d="M606,830 C575,880 570,920 584,945" marker-end="url(#ag)"/><path d="M802,830 C815,870 812,920 800,945" marker-end="url(#ag)"/><path d="M997,760 C1010,790 1005,830 995,845" /><path d="M997,760 C1012,830 1010,920 992,945" marker-end="url(#ag)"/></g>
</g>
<!-- alphabet row -->
<g>
<rect x="607" y="826" width="195" height="9" fill="#2c6e6a"/>
<g fill="#b9d63c" opacity=".55"><rect x="608" y="827" width="4" height="3"/><rect x="622" y="828" width="4" height="3"/><rect x="636" y="827" width="4" height="3"/><rect x="650" y="829" width="4" height="3"/><rect x="664" y="827" width="4" height="3"/><rect x="678" y="828" width="4" height="3"/><rect x="692" y="827" width="4" height="3"/><rect x="706" y="829" width="4" height="3"/><rect x="720" y="827" width="4" height="3"/><rect x="734" y="828" width="4" height="3"/><rect x="748" y="827" width="4" height="3"/><rect x="762" y="829" width="4" height="3"/><rect x="776" y="827" width="4" height="3"/><rect x="790" y="828" width="4" height="3"/></g>
<g stroke="#fff" stroke-width="0.5"><path d="M613.7,826v9M620.4,826v9M627.1,826v9M633.8,826v9M640.5,826v9M647.2,826v9M653.9,826v9M660.6,826v9M667.3,826v9M674,826v9M680.7,826v9M687.4,826v9M694.1,826v9M700.8,826v9M707.5,826v9M714.2,826v9M720.9,826v9M727.6,826v9M734.3,826v9M741,826v9M747.7,826v9M754.4,826v9M761.1,826v9M767.8,826v9M774.5,826v9M781.2,826v9M787.9,826v9M794.6,826v9"/></g>
<g><rect x="608" y="821" width="4" height="4" fill="#e04b4b"/><rect x="615" y="821" width="4" height="4" fill="#e0684b"/><rect x="621" y="821" width="4" height="4" fill="#e0844b"/><rect x="628" y="821" width="4" height="4" fill="#e0a04b"/><rect x="635" y="821" width="4" height="4" fill="#d8bc3c"/><rect x="641" y="821" width="4" height="4" fill="#c8cc3c"/><rect x="648" y="821" width="4" height="4" fill="#a8cc3c"/><rect x="655" y="821" width="4" height="4" fill="#8ccc3c"/><rect x="661" y="821" width="4" height="4" fill="#6ccc3c"/><rect x="668" y="821" width="4" height="4" fill="#4ccc4c"/><rect x="675" y="821" width="4" height="4" fill="#3ccc6c"/><rect x="682" y="821" width="4" height="4" fill="#3ccc8c"/><rect x="688" y="821" width="4" height="4" fill="#3cccac"/><rect x="695" y="821" width="4" height="4" fill="#3cc8c8"/><rect x="702" y="821" width="4" height="4" fill="#3cacd8"/><rect x="708" y="821" width="4" height="4" fill="#3c8cd8"/><rect x="715" y="821" width="4" height="4" fill="#3c6cd8"/><rect x="722" y="821" width="4" height="4" fill="#4c4cd8"/><rect x="728" y="821" width="4" height="4" fill="#6c3cd8"/><rect x="735" y="821" width="4" height="4" fill="#8c3cd8"/><rect x="742" y="821" width="4" height="4" fill="#ac3cd8"/><rect x="748" y="821" width="4" height="4" fill="#c83cc8"/><rect x="755" y="821" width="4" height="4" fill="#d83cac"/><rect x="762" y="821" width="4" height="4" fill="#d83c8c"/><rect x="768" y="821" width="4" height="4" fill="#d83c6c"/><rect x="775" y="821" width="4" height="4" fill="#d83c4c"/><rect x="782" y="821" width="4" height="4" fill="#c84c4c"/><rect x="788" y="821" width="4" height="4" fill="#d84c4c"/><rect x="795" y="821" width="4" height="4" fill="#e04b4b"/></g>
<text x="705" y="839.5" font-size="2.5" fill="#444" text-anchor="middle">Quantile_threshold_ward Alphabeth, Bat #215</text>
<text x="705" y="846.5" font-size="3" fill="#333" text-anchor="middle">Parametric UMAP - Pretrained EfficientNetV2B0-AE - (train Dataset). Inputs: Resized Spectrograms (128x128), Preprocessing: Z-norm, (n_samples = 13508)</text>
</g>
<!-- four scatter plots -->
<g stroke="#ccc" stroke-width="0.3" fill="#fff"><rect x="612" y="853" width="44" height="59"/><rect x="660" y="853" width="44" height="59"/><rect x="708" y="853" width="45" height="59"/><rect x="756" y="853" width="45" height="59"/></g>
<g filter="url(#bl2)">
<path d="M618,905 C614,880 625,858 645,858 C652,862 640,870 632,885 C628,895 630,905 618,905z" fill="#c85ac8" opacity=".8"/>
<path d="M620,902 C620,890 625,880 630,876 C632,892 628,900 620,902z" fill="#5a6cd8" opacity=".8"/>
<path d="M632,866 C640,860 648,858 650,862 C645,866 638,868 632,870z" fill="#8ad04a" opacity=".8"/>
<path d="M666,905 C660,880 675,858 695,858 C700,862 690,870 682,885 C678,895 680,905 666,905z" fill="#111"/>
<path d="M668,903 C666,890 672,875 677,870 C679,890 676,900 668,903z" fill="#3ccc8c"/>
<path d="M689,858 C697,858 700,866 698,872 C693,870 690,865 689,858z" fill="#d040c8"/>
<path d="M714,905 C710,880 722,858 742,858 C748,862 738,870 730,885 C726,895 728,905 714,905z" fill="#c8cc3c"/>
<path d="M728,860 C736,858 746,860 748,868 C740,872 732,870 728,860z" fill="#d040c8"/>
<path d="M722,868 C728,862 734,864 734,874 C728,876 724,872 722,868z" fill="#e05a4a"/>
<path d="M716,905 C714,896 722,892 728,896 C726,905 720,906 716,905z" fill="#4ccc4c"/>
<path d="M762,905 C758,880 770,858 790,858 C796,862 786,870 778,885 C774,895 776,905 762,905z" fill="#4ccc4c"/>
<path d="M778,860 C785,858 794,860 796,870 C788,874 780,868 778,860z" fill="#e05a4a"/>
<path d="M770,866 C776,860 782,862 782,872 C776,876 772,872 770,866z" fill="#5ad0d8"/>
<path d="M762,905 C760,896 768,892 772,896 C772,905 766,906 762,905z" fill="#d8b43c"/>
<path d="M778,885 C782,880 786,884 786,892 C780,894 778,890 778,885z" fill="#5a6cd8"/>
</g>
<!-- bottom waveform -->
<rect x="581" y="926" width="107" height="25" fill="#333"/>
<rect x="595" y="926" width="10" height="25" fill="#fff"/><rect x="615" y="926" width="10" height="25" fill="#fff"/><rect x="665" y="926" width="10" height="25" fill="#fff"/>
<line x1="581" y1="938.5" x2="688" y2="938.5" stroke="#000" stroke-width="0.4"/>
<g stroke="#000" stroke-width="0.5"><line x1="599" y1="929" x2="599" y2="946"/><line x1="620" y1="931" x2="620" y2="944"/><line x1="669" y1="928" x2="669" y2="948"/></g>
<g fill="#f00"><rect x="595" y="945" width="8" height="5"/><rect x="615" y="945" width="8" height="5"/><rect x="665" y="945" width="8" height="5"/></g>
<g font-size="4" fill="#fff" text-anchor="middle"><text x="599" y="949.3">13</text><text x="619" y="949.3">13</text><text x="669" y="949.3">13</text></g>
<circle cx="773" cy="950" r="28" fill="#f2ff3c" stroke="#000" stroke-width="1.8"/>
<g font-size="8" fill="#000" text-anchor="middle"><text x="773" y="944">27 ± 2</text><text x="773" y="954">vocal</text><text x="773" y="963.5">units</text></g>
<circle cx="963" cy="952" r="28" fill="#f2ff3c" stroke="#000" stroke-width="1.8"/>
<g font-size="8" fill="#000" text-anchor="middle"><text x="963" y="946">7</text><text x="963" y="956">vocal</text><text x="963" y="966">subunits</text></g>
<!-- right umaps -->
<rect x="821" y="700" width="57" height="57" fill="#fff" stroke="#888" stroke-width="0.5"/>
<g filter="url(#bl2)"><ellipse cx="832" cy="718" rx="8" ry="14" fill="#5bb85b" opacity=".7"/><ellipse cx="855" cy="728" rx="18" ry="20" fill="#d8a8a0" opacity=".85"/></g>
<path d="M822,735 L828,742 L832,755 L824,752z" fill="#6a5040"/>
<rect x="821" y="760" width="57" height="57" fill="#000"/>
<g filter="url(#bl2)"><ellipse cx="848" cy="793" rx="12" ry="17" fill="#c49a88" opacity=".9"/><ellipse cx="828" cy="808" rx="6" ry="4" fill="#8a7a40"/></g>
<rect x="867" y="761" width="10" height="22" fill="#ddd"/>
<rect x="881" y="701" width="116" height="116" fill="#000"/>
<g filter="url(#bl2)"><ellipse cx="931" cy="725" rx="10" ry="15" fill="#c85a4a" opacity=".9"/><ellipse cx="915" cy="745" rx="8" ry="9" fill="#c05040" opacity=".85"/><ellipse cx="965" cy="773" rx="15" ry="11" fill="#c85a4a" opacity=".9"/><path d="M950,800 C960,785 975,770 990,788 C985,800 965,810 950,800z" fill="#b0a060" opacity=".8"/><ellipse cx="910" cy="783" rx="6" ry="8" fill="#b85040"/><ellipse cx="912" cy="810" rx="5" ry="4" fill="#b85040"/><ellipse cx="925" cy="798" rx="5" ry="5" fill="#a04a40"/></g>
<rect x="964" y="703" width="32" height="38" fill="#ccc"/>
<g><rect x="965" y="705" width="4" height="2" fill="#c03040"/><rect x="965" y="709" width="4" height="2" fill="#e04040"/><rect x="965" y="713" width="4" height="2" fill="#f08040"/><rect x="965" y="717" width="4" height="2" fill="#f0b080"/><rect x="965" y="721" width="4" height="2" fill="#f0e0a0"/><rect x="965" y="725" width="4" height="2" fill="#e0e080"/><rect x="965" y="729" width="4" height="2" fill="#c0e080"/><rect x="965" y="733" width="4" height="2" fill="#60c090"/><rect x="965" y="737" width="4" height="2" fill="#4080c0"/></g>
<g font-size="2.6" fill="#333"><text x="971" y="707">Biting</text><text x="971" y="711">Feeding</text><text x="971" y="715">Fighting</text><text x="971" y="719">Grooming</text><text x="971" y="723">Isolation</text><text x="971" y="727">Kissing</text><text x="971" y="731">Landing</text><text x="971" y="735">Mating protest</text><text x="971" y="739">Separation</text></g>
<text x="994" y="815" font-size="2.8" fill="#ccc" text-anchor="end">UMAP: n_neighbors=30, min_dist=0.3</text>
<!-- silhouette -->
<text x="943" y="829" font-size="3" fill="#333" text-anchor="middle">Silhouette plot</text>
<rect x="890" y="831" width="107" height="79" fill="#fff" stroke="#999" stroke-width="0.4"/>
<g>
<path d="M921,832 L921,841 L896,842 C905,838 915,835 921,832z" fill="#7fcdb0"/>
<path d="M921,842 L948,842 C950,850 947,858 944,863 L921,863z" fill="#f6a686"/>
<path d="M921,864 L944,864 L938,869 L921,869z" fill="#9fb0d8"/>
<path d="M921,870 L948,870 L945,877 L921,877z" fill="#e4a0cc"/>
<path d="M921,878 L947,878 L942,888 L921,888z" fill="#b8e080"/>
<path d="M921,889 L949,889 L946,891 L921,891z" fill="#f8e04a"/>
<path d="M921,892 L945,892 C940,900 930,905 921,906z" fill="#eed4b0"/>
<path d="M921,906 L941,906 L935,908 L921,909z" fill="#c8c8c8"/>
</g>
<line x1="921" y1="832" x2="921" y2="910" stroke="#333" stroke-width="0.3"/>
<line x1="949" y1="832" x2="949" y2="910" stroke="#e22" stroke-width="0.4" stroke-dasharray="1 0.8"/>
<g font-size="2.6" fill="#333" text-anchor="end"><text x="888" y="845">140000</text><text x="888" y="858">120000</text><text x="888" y="871">100000</text><text x="888" y="884">80000</text><text x="888" y="897">60000</text><text x="888" y="910">40000</text></g>

<!-- ============ LEFT FIGURE ============ -->
<rect x="73" y="837" width="371" height="120" fill="#fff" stroke="#777" stroke-width="0.6"/>
<line x1="195" y1="837" x2="195" y2="957" stroke="#555" stroke-width="0.6"/>
<line x1="319" y1="837" x2="319" y2="957" stroke="#555" stroke-width="0.6"/>
<g stroke="#aaa" stroke-width="0.5" stroke-dasharray="2 1.5" fill="none">
<path d="M78,845 L130,900 M100,845 L125,895 M120,845 L128,900 M140,845 L130,900 M160,845 L135,900 M190,860 L130,905 M190,900 L130,905 M190,930 L130,905 M78,880 L130,905 M78,925 L130,905 M150,955 L130,905 M100,955 L130,905"/>
<path d="M215,845 L235,870 M250,845 L248,860 M310,845 L285,875 M315,880 L285,895 M315,920 L285,905 M290,955 L278,915 M260,955 L262,930 M200,880 L210,890 M315,900 L270,900"/>
<path d="M330,845 L380,900 M370,845 L380,900 M400,845 L385,900 M430,845 L400,900 M440,880 L400,900 M440,920 L395,905 M440,950 L395,910 M330,930 L380,905 M360,955 L385,910 M410,955 L395,910"/>
</g>
<g filter="url(#bl)">
<ellipse cx="150" cy="863" rx="18" ry="12" fill="#f09a3c" opacity=".85"/>
<ellipse cx="135" cy="880" rx="16" ry="14" fill="#9ab868" opacity=".6"/>
<ellipse cx="115" cy="900" rx="30" ry="25" fill="#c8a0a0" opacity=".65"/>
<ellipse cx="140" cy="915" rx="25" ry="28" fill="#c0a0b8" opacity=".55"/>
<ellipse cx="100" cy="885" rx="15" ry="12" fill="#a8b888" opacity=".5"/>
<ellipse cx="165" cy="873" rx="6" ry="6" fill="#d8d060" opacity=".7"/>
</g>
<rect x="76" y="922" width="17" height="33" fill="#1a1a1a"/><circle cx="84" cy="925" r="5" fill="#7a5038"/>
<g filter="url(#bl2)">
<ellipse cx="240" cy="866" rx="7" ry="4" fill="#f4b870"/><ellipse cx="280" cy="866" rx="5" ry="4" fill="#3a9a3a"/><ellipse cx="261" cy="892" rx="6" ry="6" fill="#f08020"/><ellipse cx="295" cy="890" rx="3" ry="5" fill="#6cc060"/><ellipse cx="208" cy="880" rx="3" ry="5" fill="#b8a0d8"/><ellipse cx="233" cy="880" rx="2" ry="5" fill="#9a70d0"/><ellipse cx="205" cy="909" rx="2.5" ry="4" fill="#c02020"/><ellipse cx="233" cy="910" rx="2.5" ry="5" fill="#b8a0d8"/><ellipse cx="278" cy="923" rx="3" ry="3" fill="#f0a040"/><ellipse cx="262" cy="927" rx="2.5" ry="3" fill="#f0a040"/><ellipse cx="277" cy="842" rx="2" ry="3" fill="#e08080"/>
</g>
<ellipse cx="215" cy="932" rx="11" ry="10" fill="#c88a60"/>
<g filter="url(#bl)">
<ellipse cx="350" cy="870" rx="18" ry="25" fill="#4aa84a" opacity=".75"/>
<ellipse cx="385" cy="873" rx="14" ry="18" fill="#e0b0a0" opacity=".6"/>
<ellipse cx="398" cy="905" rx="38" ry="40" fill="#c8a8a8" opacity=".85"/>
</g>
<path d="M324,920 L340,935 L337,954 L324,945z" fill="#6a5040"/>
<polyline points="227,972 238,972 243,884" fill="none" stroke="#555" stroke-width="0.4"/>
<path d="M262,967 L305,967 L305,963 L313,971 L305,979 L305,975 L262,975z" fill="#eee" stroke="#777" stroke-width="0.5"/>

<!-- QR code -->
<g fill="#000">
<rect x="1462" y="940" width="20" height="20"/><rect x="1465" y="943" width="14" height="14" fill="#fff"/><rect x="1468" y="946" width="8" height="8"/>
<rect x="1528" y="940" width="20" height="20"/><rect x="1531" y="943" width="14" height="14" fill="#fff"/><rect x="1534" y="946" width="8" height="8"/>
<rect x="1462" y="1007" width="20" height="20"/><rect x="1465" y="1010" width="14" height="14" fill="#fff"/><rect x="1468" y="1013" width="8" height="8"/>
<path d="M1486,940h4v7h-4zM1494,940h3v3h3v6h-6zM1503,942h4v4h4v4h-8zM1516,940h6v3h-3v5h-3zM1487,950h3v6h4v3h-7zM1498,952h3v7h-3zM1505,952h5v3h-5zM1514,952h3v6h-3zM1521,951h3v5h-3zM1462,964h3v3h-3zM1468,964h6v3h-6zM1478,962h4v8h-4zM1486,963h7v3h-7zM1496,962h3v7h3v3h-6zM1505,962h6v3h-6zM1514,964h5v5h-5zM1524,962h3v3h-3zM1530,963h7v3h-7zM1541,962h7v4h-7zM1464,971h6v4h-6zM1474,973h3v6h-3zM1484,970h4v4h-4zM1490,972h3v6h-3zM1504,970h7v3h-7zM1515,972h3v6h-3zM1521,970h6v4h-6zM1531,972h3v7h-3zM1538,970h4v4h-4zM1545,970h3v7h-3zM1462,980h4v6h-4zM1470,982h7v3h-7zM1482,980h3v6h-3zM1488,981h6v4h-6zM1498,980h4v7h-4zM1506,982h3v3h-3zM1512,980h6v4h-6zM1523,982h3v6h-3zM1529,984h6v3h-6zM1540,981h4v4h-4zM1466,990h3v6h-3zM1473,991h6v3h-6zM1484,990h3v5h-3zM1491,992h6v3h-6zM1502,990h4v6h-4zM1510,991h3v3h-3zM1516,990h7v4h-7zM1527,991h3v6h-3zM1535,990h6v3h-6zM1545,990h3v7h-3zM1462,999h7v3h-7zM1486,1000h3v7h-3zM1493,999h7v3h-7zM1504,1000h3v4h-3zM1511,999h6v6h-6zM1521,1001h4v4h-4zM1530,999h3v6h-3zM1537,1001h6v3h-6zM1486,1010h6v3h-6zM1496,1009h3v7h-3zM1503,1011h6v3h-6zM1513,1009h4v5h-4zM1520,1010h3v3h-3zM1526,1007h8v8h-8zM1538,1010h5v3h-5zM1545,1008h3v6h-3zM1486,1018h3v6h-3zM1492,1020h6v3h-6zM1502,1018h3v9h-3zM1509,1020h6v3h-6zM1519,1018h3v6h-3zM1526,1020h6v3h-6zM1536,1018h4v4h-4zM1543,1020h5v7h-5zM1490,1024h8v3h-8zM1510,1024h5v3h-5zM1526,1024h8v3h-8z"/>
</g>
</svg>
</div></body></html>
